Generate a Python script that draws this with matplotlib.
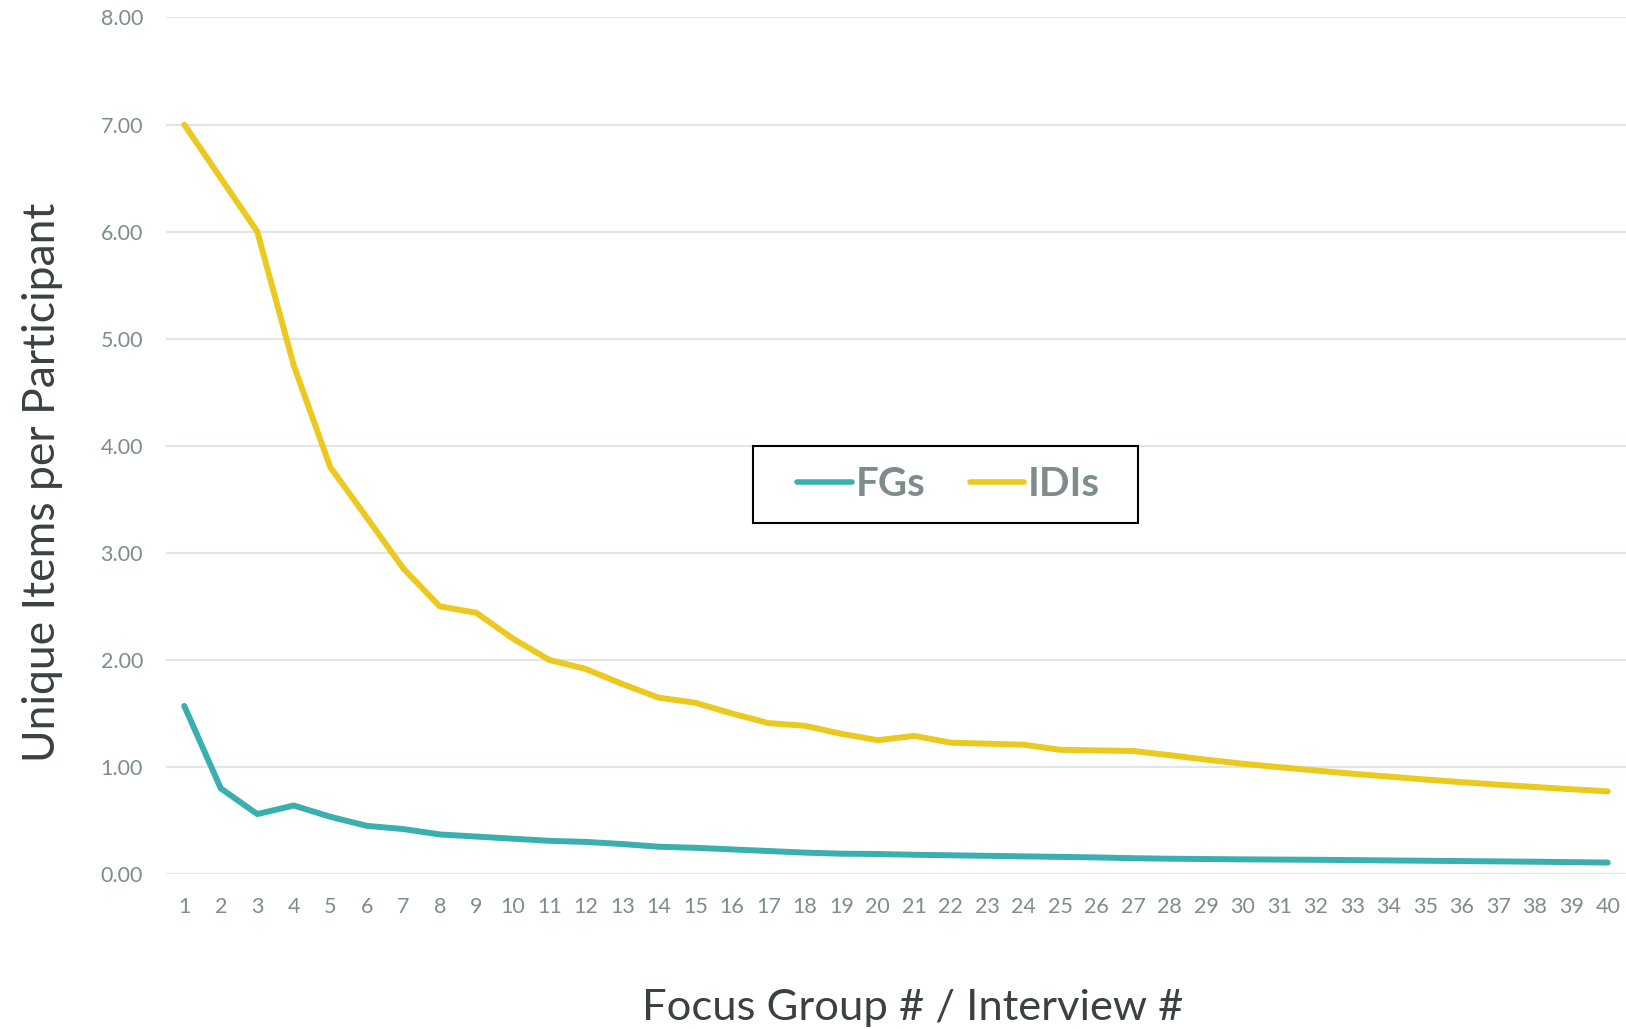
import matplotlib
matplotlib.use("Agg")
import matplotlib.pyplot as plt
from matplotlib.patches import Rectangle

interviews = list(range(1, 41))
fgs = [1.57, 0.80, 0.56, 0.64, 0.535, 0.45, 0.42, 0.37, 0.35, 0.33,
       0.31, 0.30, 0.28, 0.255, 0.245, 0.23, 0.215, 0.20, 0.19, 0.187,
       0.18, 0.175, 0.17, 0.165, 0.16, 0.155, 0.148, 0.143, 0.14, 0.137,
       0.135, 0.133, 0.13, 0.127, 0.124, 0.121, 0.118, 0.115, 0.111, 0.107]
idis = [7.00, 6.50, 6.00, 4.75, 3.80, 3.33, 2.855, 2.50, 2.44, 2.20,
        2.00, 1.915, 1.775, 1.647, 1.60, 1.50, 1.41, 1.385, 1.31, 1.25,
        1.29, 1.227, 1.217, 1.208, 1.16, 1.155, 1.149, 1.11, 1.068, 1.03,
        0.998, 0.967, 0.937, 0.91, 0.883, 0.858, 0.835, 0.813, 0.792, 0.772]
y_ticks = [0, 1, 2, 3, 4, 5, 6, 7, 8]

FONT = "Lato"
TICK_COLOR = "#7F8C8D"
TITLE_COLOR = "#3B4141"
TEAL = "#3AAFB0"
YELLOW = "#EBC91E"

fig = plt.figure(figsize=(16.26, 10.29), dpi=100)
ax = fig.add_axes([0.1021, 0.1506, 0.8979, 0.8324])

ax.plot(interviews, fgs, color=TEAL, lw=4.3, label="FGs", solid_capstyle="round", solid_joinstyle="round", zorder=3)
ax.plot(interviews, idis, color=YELLOW, lw=4.3, label="IDIs", solid_capstyle="round", solid_joinstyle="round", zorder=3)

ax.set_xlim(0.5, 40.5)
ax.set_ylim(0, 8)
ax.set_yticks(y_ticks)
ax.set_yticklabels([f"{v:.2f}" for v in y_ticks], fontfamily=FONT, fontsize=15.5, color=TICK_COLOR)
ax.set_xticks(interviews)
ax.set_xticklabels([str(i) for i in interviews], fontfamily=FONT, fontsize=15.5, color=TICK_COLOR)
ax.tick_params(axis="both", length=0)
ax.tick_params(axis="y", pad=16.5)
ax.tick_params(axis="x", pad=16.5)
for s in ax.spines.values():
    s.set_visible(False)
ax.grid(axis="y", color="#E1E5E5", lw=1.5, zorder=0)
ax.set_axisbelow(True)

fig.text(0.026, 0.5316, "Unique Items per Participant", rotation=90, ha="center", va="center",
         fontfamily=FONT, fontsize=32, color=TITLE_COLOR)
fig.text(0.5615, 0.0087, "Focus Group # / Interview #", ha="center", va="baseline",
         fontfamily=FONT, fontsize=31.3, color=TITLE_COLOR)

leg = ax.legend(loc="center", bbox_to_anchor=(0.5835, 0.5294), bbox_transform=fig.transFigure,
                ncol=2, frameon=False, handlelength=1.35, handletextpad=0.1,
                columnspacing=1.1, borderpad=0.0,
                prop={"family": FONT, "size": 29, "weight": "bold"})
for t in leg.get_texts():
    t.set_color(TICK_COLOR)
for h in leg.get_lines():
    h.set_linewidth(4.0)

fig.patches.append(Rectangle((0.4631, 0.4920), 0.6996 - 0.4631, 0.5666 - 0.4920,
                             transform=fig.transFigure, fill=False, edgecolor="black",
                             linewidth=1.5, zorder=5))

fig.savefig("out.png", dpi=100)
